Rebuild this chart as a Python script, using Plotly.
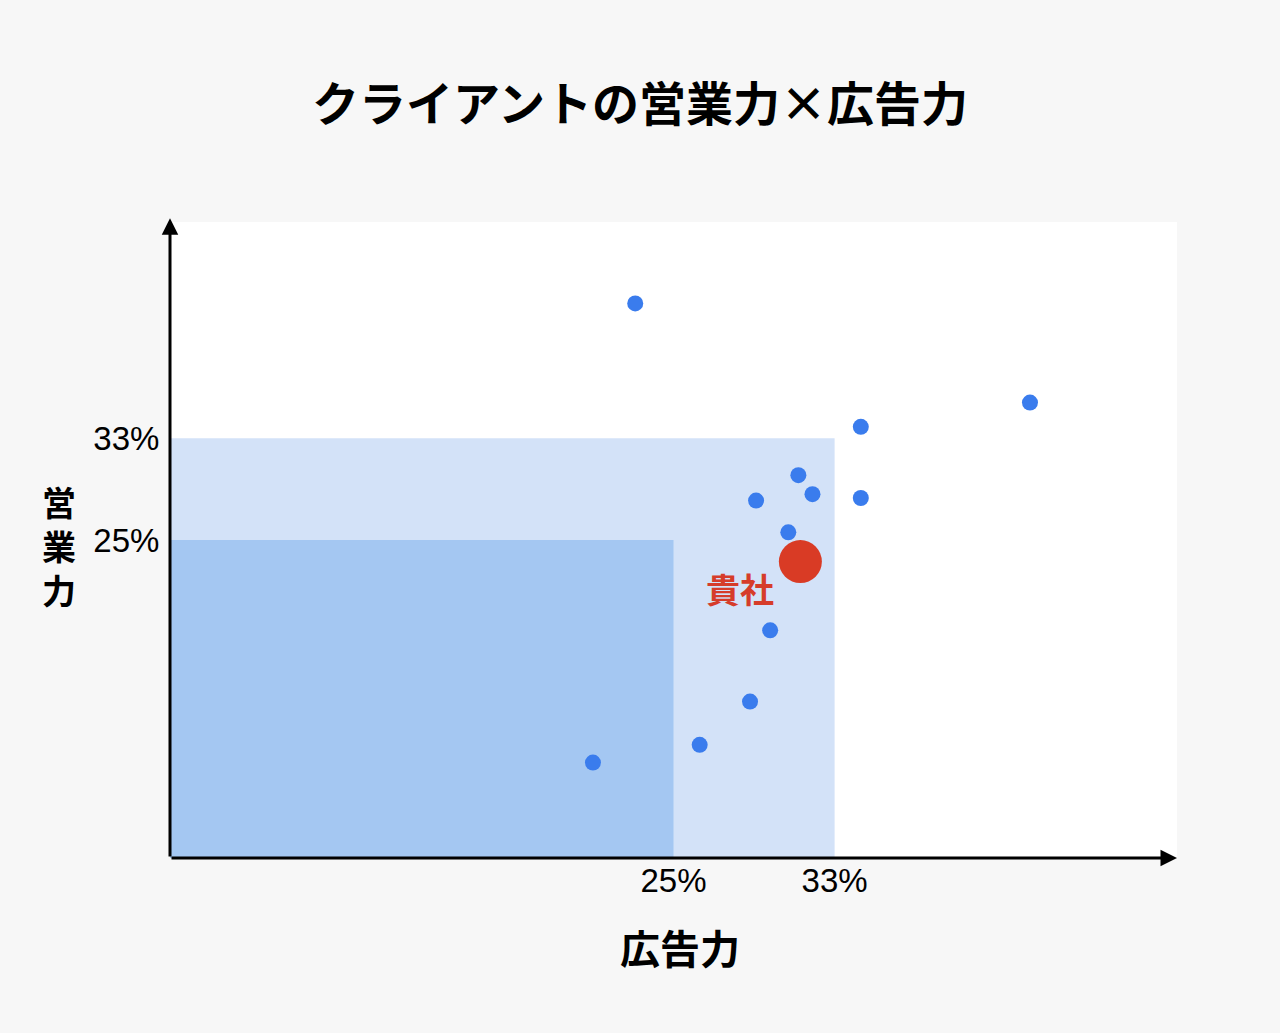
import plotly.graph_objects as go

# client positions (広告力 %, 営業力 %)
client_ad = [23.1, 42.7, 34.3, 31.2, 29.1, 31.9, 34.3, 30.7, 29.8, 28.8, 26.3, 21.0]
client_sales = [43.6, 35.8, 33.9, 30.1, 28.1, 28.6, 28.3, 25.6, 17.9, 12.3, 8.9, 7.5]

own_ad = [31.3]
own_sales = [23.3]
own_label = "貴社"

tick_vals = [25, 33]
tick_text = ["25%", "33%"]

jp_font = "Noto Sans CJK JP"
bg = "#f7f7f7"

W, H = 1280, 1033
L, R, T, B = 170, 103, 222, 175
pw = W - L - R
ph = H - T - B


def px(xp, yp):
    # pixel position -> paper coords
    return (xp - L) / pw, (H - B - yp) / ph


fig = go.Figure()

# shaded zones
fig.add_shape(type="rect", x0=0, y0=0, x1=33, y1=33, xref="x", yref="y",
              fillcolor="#d3e2f8", line_width=0, layer="below")
fig.add_shape(type="rect", x0=0, y0=0, x1=25, y1=25, xref="x", yref="y",
              fillcolor="#a4c7f2", line_width=0, layer="below")

fig.add_trace(go.Scatter(x=client_ad, y=client_sales, mode="markers",
                         marker=dict(color="#3a7ced", size=16), showlegend=False,
                         hoverinfo="x+y"))
fig.add_trace(go.Scatter(x=own_ad, y=own_sales, mode="markers",
                         marker=dict(color="#d93b25", size=43), showlegend=False,
                         hoverinfo="x+y"))

fig.add_annotation(x=own_ad[0], y=own_sales[0], text="<b>" + own_label + "</b>",
                   showarrow=False, xshift=-60, yshift=-27,
                   font=dict(family=jp_font, size=34, color="#d63c2a"))

# axes with arrows
fig.add_annotation(x=50, y=0, ax=0, ay=0, xref="x", yref="y", axref="x", ayref="y",
                   text="", showarrow=True, arrowhead=2, arrowsize=1.1, arrowwidth=3,
                   arrowcolor="black")
fig.add_annotation(x=0, y=50.3, ax=0, ay=0, xref="x", yref="y", axref="x", ayref="y",
                   text="", showarrow=True, arrowhead=2, arrowsize=1.1, arrowwidth=3,
                   arrowcolor="black")

# axis titles
x0, y0 = px(680, 947)
fig.add_annotation(x=x0, y=y0, xref="paper", yref="paper", text="<b>広告力</b>",
                   xanchor="center", yanchor="middle", showarrow=False,
                   font=dict(family=jp_font, size=40, color="black"))
xa, ya = px(59, 545)
fig.add_annotation(x=xa, y=ya, xref="paper", yref="paper", text="<b>営<br>業<br>力</b>",
                   xanchor="center", yanchor="middle", showarrow=False,
                   font=dict(family=jp_font, size=34, color="black"))

fig.update_layout(
    width=W, height=H,
    paper_bgcolor=bg, plot_bgcolor="white",
    margin=dict(l=L, r=R, t=T, b=B),
    title=dict(text="<b>クライアントの営業力×広告力</b>", x=0.5, xanchor="center",
               y=1 - 105 / H, yanchor="middle",
               font=dict(family=jp_font, size=47, color="black")),
    xaxis=dict(range=[0, 50], tickvals=tick_vals, ticktext=tick_text, showgrid=False,
               zeroline=False, showline=False, ticks="",
               tickfont=dict(family="Liberation Sans", size=33, color="black")),
    yaxis=dict(range=[0, 50], tickvals=tick_vals, ticktext=tick_text, showgrid=False,
               zeroline=False, showline=False, ticks="outside", ticklen=3,
               tickcolor="rgba(0,0,0,0)",
               tickfont=dict(family="Liberation Sans", size=33, color="black")),
)

fig.write_html("out.html", config={"displayModeBar": False},
               post_script="document.body.style.margin='0';")
